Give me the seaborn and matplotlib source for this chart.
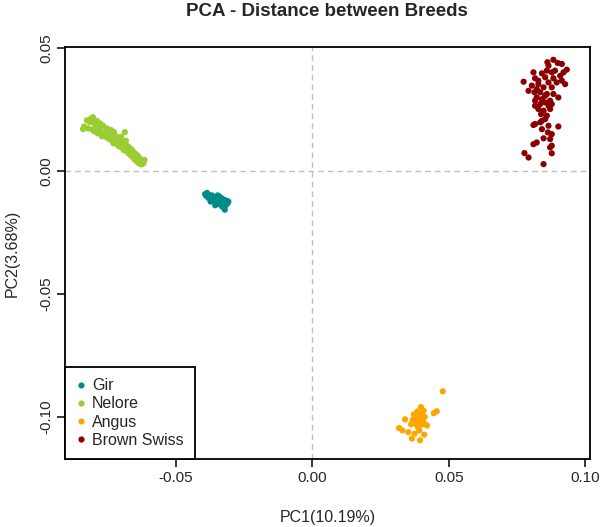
import pandas as pd
import numpy as np
import matplotlib
matplotlib.use("Agg")
import matplotlib.pyplot as plt
import seaborn as sns

# ---------------- data
breeds = ["Gir", "Nelore", "Angus", "Brown Swiss"]
colors = ["#008B8B", "#9ACD32", "#FFA500", "#8B0000"]

gir_pc1 = [-0.0392, -0.0388, -0.0385, -0.0380, -0.0378, -0.0374, -0.0370, -0.0367, -0.0364,
           -0.0360, -0.0357, -0.0354, -0.0350, -0.0348, -0.0345, -0.0342, -0.0340, -0.0337,
           -0.0334, -0.0331, -0.0328, -0.0325, -0.0322, -0.0319, -0.0316, -0.0313, -0.0310,
           -0.0307, -0.0320, -0.0355, -0.0372, -0.0346, -0.0330]
gir_pc2 = [-0.0095, -0.0102, -0.0090, -0.0110, -0.0098, -0.0105, -0.0118, -0.0100, -0.0112,
           -0.0125, -0.0108, -0.0118, -0.0130, -0.0112, -0.0122, -0.0135, -0.0105, -0.0118,
           -0.0128, -0.0112, -0.0124, -0.0135, -0.0118, -0.0128, -0.0140, -0.0122, -0.0132,
           -0.0125, -0.0158, -0.0140, -0.0125, -0.0100, -0.0145]

nelore_pc1 = [-0.0835, -0.0825, -0.0820, -0.0815, -0.0810, -0.0805, -0.0800, -0.0798, -0.0792,
              -0.0788, -0.0785, -0.0780, -0.0776, -0.0772, -0.0768, -0.0765, -0.0760, -0.0757,
              -0.0752, -0.0748, -0.0745, -0.0740, -0.0737, -0.0733, -0.0730, -0.0726, -0.0722,
              -0.0718, -0.0715, -0.0712, -0.0708, -0.0705, -0.0700, -0.0697, -0.0693, -0.0690,
              -0.0686, -0.0682, -0.0678, -0.0675, -0.0671, -0.0668, -0.0664, -0.0660, -0.0657,
              -0.0653, -0.0650, -0.0646, -0.0642, -0.0638, -0.0634, -0.0630, -0.0626, -0.0622,
              -0.0618, -0.0614, -0.0803, -0.0839, -0.0686, -0.0760, -0.0728, -0.0695,
              -0.0790, -0.0770, -0.0745, -0.0720, -0.0702, -0.0680, -0.0660, -0.0640]
nelore_pc2 = [0.0180, 0.0205, 0.0172, 0.0198, 0.0212, 0.0168, 0.0195, 0.0160, 0.0182,
              0.0203, 0.0152, 0.0175, 0.0192, 0.0158, 0.0145, 0.0182, 0.0152, 0.0138,
              0.0172, 0.0150, 0.0130, 0.0150, 0.0166, 0.0122, 0.0143, 0.0158, 0.0118,
              0.0140, 0.0108, 0.0132, 0.0100, 0.0124, 0.0138, 0.0094, 0.0117, 0.0084,
              0.0106, 0.0122, 0.0078, 0.0100, 0.0070, 0.0092, 0.0062, 0.0085, 0.0056,
              0.0075, 0.0046, 0.0068, 0.0038, 0.0058, 0.0030, 0.0050, 0.0026, 0.0042,
              0.0030, 0.0044, 0.0218, 0.0169, 0.0157, 0.0148, 0.0112, 0.0108,
              0.0168, 0.0140, 0.0162, 0.0135, 0.0115, 0.0095, 0.0072, 0.0062]

angus_pc1 = [0.0478, 0.0398, 0.0408, 0.0385, 0.0372, 0.0390, 0.0400, 0.0412, 0.0380, 0.0395,
             0.0368, 0.0405, 0.0388, 0.0375, 0.0410, 0.0398, 0.0362, 0.0385, 0.0420, 0.0445,
             0.0340, 0.0318, 0.0330, 0.0352, 0.0392, 0.0375, 0.0410, 0.0365, 0.0395, 0.0456]
angus_pc2 = [-0.0896, -0.0960, -0.0975, -0.0978, -0.0990, -0.0995, -0.0990, -0.1000, -0.1005,
             -0.1010, -0.1012, -0.1015, -0.1020, -0.1025, -0.1028, -0.1032, -0.1030, -0.1038,
             -0.1035, -0.0985, -0.1010, -0.1045, -0.1055, -0.1062, -0.1055, -0.1068, -0.1072,
             -0.1088, -0.1095, -0.0977]

bswiss_pc1 = [0.0883, 0.0899, 0.0914, 0.0861, 0.0865, 0.0932, 0.0920, 0.0810, 0.0841, 0.0877,
              0.0908, 0.0774, 0.0816, 0.0853, 0.0883, 0.0914, 0.0926, 0.0828, 0.0865, 0.0792,
              0.0822, 0.0847, 0.0877, 0.0814, 0.0835, 0.0859, 0.0901, 0.0822, 0.0841, 0.0871,
              0.0816, 0.0853, 0.0835, 0.0865, 0.0828, 0.0847, 0.0871, 0.0838, 0.0853, 0.0841,
              0.0816, 0.0835, 0.0865, 0.0901, 0.0810, 0.0863, 0.0877, 0.0847, 0.0871, 0.0822,
              0.0810, 0.0877, 0.0871, 0.0777, 0.0877, 0.0792, 0.0847, 0.0889, 0.0895, 0.0859,
              0.0828, 0.0804, 0.0883, 0.0853, 0.0816, 0.0859, 0.0877, 0.0841]
bswiss_pc2 = [0.0451, 0.0438, 0.0434, 0.0441, 0.0427, 0.0411, 0.0400, 0.0400, 0.0396, 0.0400,
              0.0386, 0.0362, 0.0376, 0.0380, 0.0376, 0.0366, 0.0352, 0.0352, 0.0359, 0.0325,
              0.0332, 0.0339, 0.0339, 0.0319, 0.0319, 0.0312, 0.0298, 0.0298, 0.0291, 0.0285,
              0.0285, 0.0278, 0.0271, 0.0264, 0.0251, 0.0244, 0.0251, 0.0230, 0.0210, 0.0203,
              0.0190, 0.0197, 0.0183, 0.0180, 0.0186, 0.0156, 0.0149, 0.0132, 0.0129, 0.0115,
              0.0108, 0.0102, 0.0095, 0.0072, 0.0071, 0.0054, 0.0027, 0.0407, 0.0359, 0.0407,
              0.0366, 0.0346, 0.0312, 0.0305, 0.0264, 0.0224, 0.0271, 0.0169]

x_ticks = [-0.05, 0.00, 0.05, 0.10]
y_ticks = [-0.10, -0.05, 0.00, 0.05]

df = pd.concat([
    pd.DataFrame({"PC1": gir_pc1, "PC2": gir_pc2, "Breed": "Gir"}),
    pd.DataFrame({"PC1": nelore_pc1, "PC2": nelore_pc2, "Breed": "Nelore"}),
    pd.DataFrame({"PC1": angus_pc1, "PC2": angus_pc2, "Breed": "Angus"}),
    pd.DataFrame({"PC1": bswiss_pc1, "PC2": bswiss_pc2, "Breed": "Brown Swiss"}),
], ignore_index=True)

# ---------------- style
sns.set_style("ticks")
plt.rcParams["font.family"] = ["Liberation Sans", "DejaVu Sans"]
plt.rcParams["axes.unicode_minus"] = False

fig = plt.figure(figsize=(6, 5.27), dpi=100)
ax = fig.add_axes([65 / 600, 1 - 459 / 527, 525 / 600, 412 / 527])

ax.axvline(0, color="#BEBEBE", ls=(0, (4, 3)), lw=1, zorder=0)
ax.axhline(0, color="#BEBEBE", ls=(0, (4, 3)), lw=1, zorder=0)

sns.scatterplot(data=df, x="PC1", y="PC2", hue="Breed", hue_order=breeds,
                palette=colors, s=20, linewidth=0, ax=ax)

ax.set_xlim(-0.0905, 0.1017)
ax.set_ylim(-0.1171, 0.0503)
ax.set_xticks(x_ticks)
ax.set_xticklabels(["%.2f" % v for v in x_ticks])
ax.set_yticks(y_ticks)
ax.set_yticklabels(["%.2f" % v for v in y_ticks], rotation=90, va="center")
ax.tick_params(axis="both", direction="out", length=5.5, width=1.1, color="black",
               labelsize=11, pad=3)

for sp in ax.spines.values():
    sp.set_visible(True)
    sp.set_color("black")
    sp.set_linewidth(1.3)

ax.set_xlabel("PC1(10.19%)", fontsize=11.5, labelpad=18)
ax.set_ylabel("PC2(3.68%)", fontsize=11.5, labelpad=14)
fig.text(327 / 600, 1 - 12 / 527, "PCA - Distance between Breeds", fontsize=13.5,
         fontweight="bold", ha="center", va="center")

handles, labels = ax.get_legend_handles_labels()
leg = ax.legend(handles, labels, loc="lower left", borderaxespad=0, fontsize=11.5,
                fancybox=False, framealpha=1, edgecolor="black", handlelength=0.6,
                handletextpad=0.4, labelspacing=0.2, borderpad=0.7, markerscale=1.0)
leg.get_frame().set_linewidth(1.3)

fig.savefig("out.png", dpi=100)
